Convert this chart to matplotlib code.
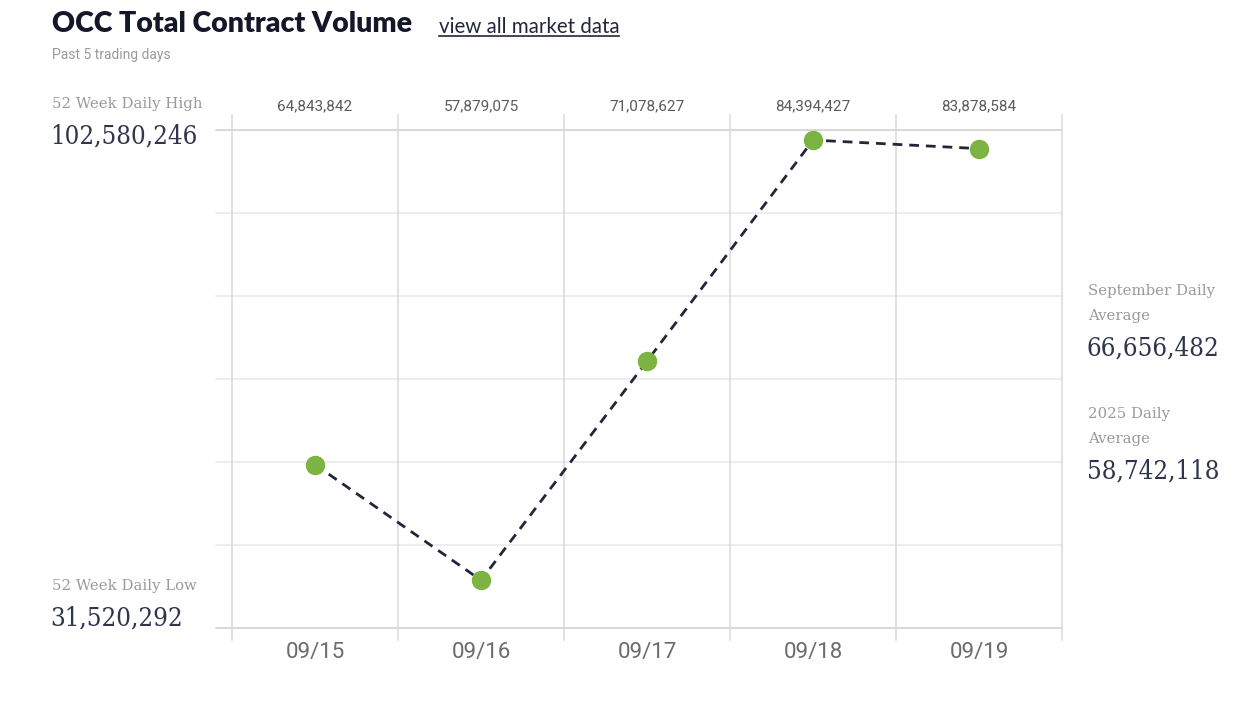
import matplotlib.pyplot as plt
from matplotlib.transforms import blended_transform_factory

# data
dates = ['09/15', '09/16', '09/17', '09/18', '09/19']
volumes = [64843842, 57879075, 71078627, 84394427, 83878584]
high_52w = 102580246
low_52w = 31520292
sep_avg = 66656482
ytd_avg = 58742118

navy = '#23263b'
grid = '#e8e8e8'

fig = plt.figure(figsize=(12.57, 7.07), dpi=100)
ax = fig.add_axes([0.1846, 0.1117, 0.8449 - 0.1846, 0.8161 - 0.1117])

x = list(range(len(dates)))
ax.set_xlim(-0.5, len(dates) - 0.5)
ax.set_ylim(55e6, 85e6)

# horizontal grid lines, sticking out a bit on the left
for v in range(55, 86, 5):
    ax.axhline(v * 1e6, xmin=-0.019, xmax=1, color='#cdcdcd' if v in (55, 85) else grid,
               lw=1.1, clip_on=False, zorder=0)

# vertical band separators, reaching above and below the plot
tr = blended_transform_factory(ax.transData, ax.transAxes)
for i in range(len(dates) + 1):
    ax.plot([i - 0.5, i - 0.5], [-0.024, 1.03], transform=tr, color='#d8d8d8',
            lw=1.1, clip_on=False, zorder=0)

ax.plot(x, volumes, ls=(0, (3.5, 2.5)), color=navy, lw=2, zorder=2)
ax.plot(x, volumes, ls='none', marker='o', ms=13, color='#7cb342', zorder=3)

for s in ax.spines.values():
    s.set_visible(False)
ax.set_yticks([])
ax.set_xticks(x)
ax.set_xticklabels(dates, fontsize=16, color='#6b6b6b', family='Roboto')
ax.tick_params(axis='x', length=0, pad=10)

# daily values above the plot
for i, v in enumerate(volumes):
    ax.text(i, 1.047, f'{v:,}', transform=tr, ha='center', va='center',
            fontsize=11, color='#5a5a5a', family='Roboto')

# header
fig.text(52 / 1257, 1 - 24 / 707, 'OCC Total Contract Volume', fontsize=20.5,
         fontweight='heavy', color='#141728', family='Lato', va='center')
fig.text(439 / 1257, 1 - 27 / 707, 'view all market data', fontsize=14.8,
         color=navy, family='Lato', va='center')
fig.add_artist(plt.Line2D([439 / 1257, 619 / 1257], [1 - 36 / 707, 1 - 36 / 707],
                          color=navy, lw=1.2))
fig.text(52 / 1257, 1 - 55 / 707, 'Past 5 trading days', fontsize=10,
         color='#9a9a9a', family='Roboto', va='center')

serif = 'DejaVu Serif'
small = dict(fontsize=10.7, color='#9a9a9a', family=serif, va='center')
big = dict(fontsize=18.5, color='#30344c', family=serif, va='center',
           fontstretch='condensed')

fig.text(52 / 1257, 1 - 104 / 707, '52 Week Daily High', **small)
fig.text(50 / 1257, 1 - 136 / 707, f'{high_52w:,}', **big)
fig.text(52 / 1257, 1 - 586 / 707, '52 Week Daily Low', **small)
fig.text(50 / 1257, 1 - 618 / 707, f'{low_52w:,}', **big)

fig.text(1088 / 1257, 1 - 303.5 / 707, 'September Daily\nAverage', linespacing=2.0, **small)
fig.text(1087 / 1257, 1 - 348 / 707, f'{sep_avg:,}', **big)
fig.text(1088 / 1257, 1 - 426.5 / 707, '2025 Daily\nAverage', linespacing=2.0, **small)
fig.text(1087 / 1257, 1 - 471 / 707, f'{ytd_avg:,}', **big)

fig.savefig('out.png', dpi=100, facecolor='white')
